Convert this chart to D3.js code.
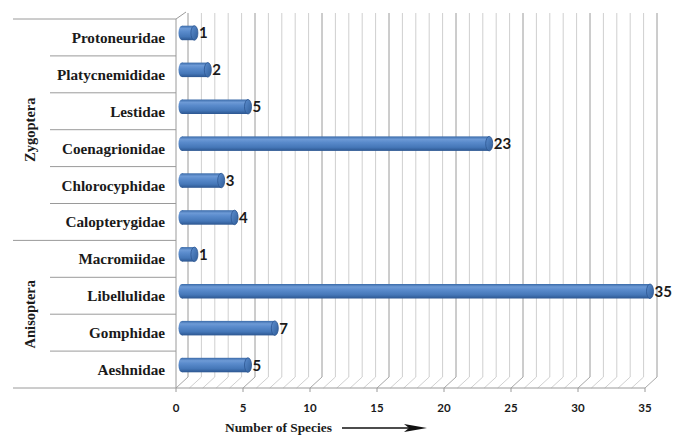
<!DOCTYPE html>
<html><head><meta charset="utf-8">
<script src="https://cdn.jsdelivr.net/npm/d3@7"></script>
<style>body{margin:0;background:#fff}svg{display:block}</style>
</head><body>
<script>
const categories = ["Protoneuridae","Platycnemididae","Lestidae","Coenagrionidae","Chlorocyphidae","Calopterygidae","Macromiidae","Libellulidae","Gomphidae","Aeshnidae"];
const values = [1,2,5,23,3,4,1,35,7,5];
const groupNames = ["Zygoptera","Anisoptera"];
const groupSizes = [6,4];
const tickValues = [0,5,10,15,20,25,30,35];
const axisTitle = "Number of Species";

const W=684,H=435;
const svg=d3.select("body").append("svg").attr("width",W).attr("height",H);
const x=d3.scaleLinear().domain([0,35]).range([176,645]);
const y=d3.scaleBand().domain(categories).range([19,388]);
const DX=12, DY=-11;
const floorY=388, topY=13;

const defs=svg.append("defs");
const g1=defs.append("linearGradient").attr("id","cyl").attr("x1",0).attr("y1",0).attr("x2",0).attr("y2",1);
[[0,"#3a6aa8"],[0.2,"#6d9ad6"],[0.4,"#5a8bcc"],[0.75,"#4577b8"],[1,"#2c5690"]].forEach(s=>g1.append("stop").attr("offset",s[0]).attr("stop-color",s[1]));
const g2=defs.append("linearGradient").attr("id","cap").attr("x1",0).attr("y1",0).attr("x2",1).attr("y2",1);
[[0,"#5d8ecf"],[1,"#2f5d99"]].forEach(s=>g2.append("stop").attr("offset",s[0]).attr("stop-color",s[1]));

const units=d3.range(0,36);
svg.append("g").selectAll("line").data(units).join("line")
  .attr("x1",d=>x(d)+DX).attr("x2",d=>x(d)+DX)
  .attr("y1",topY).attr("y2",floorY+DY)
  .attr("stroke",d=>d%5===0?"#9a9a9a":"#cfcfcf").attr("stroke-width",1);
svg.append("g").selectAll("line").data(units).join("line")
  .attr("x1",d=>x(d)).attr("x2",d=>x(d)+DX)
  .attr("y1",floorY).attr("y2",floorY+DY)
  .attr("stroke",d=>d%5===0?"#a8a8a8":"#d0d0d0").attr("stroke-width",1);
svg.append("line").attr("x1",x(0)).attr("x2",x(35)).attr("y1",floorY).attr("y2",floorY).attr("stroke","#9a9a9a");
svg.append("g").selectAll("line").data(tickValues).join("line")
  .attr("x1",d=>x(d)).attr("x2",d=>x(d)).attr("y1",floorY).attr("y2",floorY+4).attr("stroke","#9a9a9a");
svg.append("line").attr("x1",x(0)).attr("x2",x(0)).attr("y1",19).attr("y2",floorY).attr("stroke","#9a9a9a");
svg.append("line").attr("x1",x(0)).attr("x2",x(0)+DX-2).attr("y1",19).attr("y2",topY-1).attr("stroke","#9a9a9a");

const bounds=d3.range(categories.length+1).map(i=>y.range()[0]+i*y.step());
const groupStarts=[0];groupSizes.reduce((a,s)=>{groupStarts.push(a+s);return a+s;},0);
svg.append("g").selectAll("line").data(bounds).join("line")
  .attr("x1",(d,i)=>groupStarts.includes(i)?13:50).attr("x2",x(0))
  .attr("y1",d=>d).attr("y2",d=>d).attr("stroke","#9a9a9a");

svg.append("g").selectAll("text").data(categories).join("text")
  .attr("x",165).attr("y",d=>y(d)+y.bandwidth()/2+5.5)
  .attr("text-anchor","end").attr("font-family","Liberation Serif").attr("font-weight","bold").attr("font-size",15.2)
  .attr("fill","#1a1a1a").text(d=>d);
groupNames.forEach((n,i)=>{
  const a=bounds[groupStarts[i]], b=bounds[groupStarts[i+1]];
  const cy=(a+b)/2;
  svg.append("text").attr("transform",`translate(35,${cy}) rotate(-90)`)
    .attr("text-anchor","middle").attr("font-family","Liberation Serif").attr("font-weight","bold").attr("font-size",14.5)
    .attr("fill","#1a1a1a").text(n);
});

const bh=14.5, rx=3.5;
const bars=svg.append("g").selectAll("g").data(categories).join("g");
bars.each(function(c,i){
  const gg=d3.select(this);
  const cy=y(c)+y.bandwidth()/2+DY/2+1;
  const x0=x(0)+DX/2, x1=x(values[i])+DX/2-1;
  gg.append("ellipse").attr("cx",x0).attr("cy",cy).attr("rx",rx).attr("ry",bh/2).attr("fill","url(#cyl)");
  gg.append("rect").attr("x",x0).attr("y",cy-bh/2).attr("width",x1-x0).attr("height",bh).attr("fill","url(#cyl)");
  gg.append("ellipse").attr("cx",x1).attr("cy",cy).attr("rx",rx).attr("ry",bh/2).attr("fill","url(#cap)").attr("stroke","#2c5690").attr("stroke-width",0.8);
  gg.append("text").attr("x",x1+rx+1).attr("y",cy+5.5)
    .attr("font-family","Lato").attr("font-weight","bold").attr("font-size",15).attr("fill","#1a1a1a").text(values[i]);
});

svg.append("g").selectAll("text").data(tickValues).join("text")
  .attr("x",d=>x(d)).attr("y",412).attr("text-anchor","middle")
  .attr("font-family","Lato").attr("font-weight","bold").attr("font-size",11.5).attr("fill","#1a1a1a").text(d=>d);

svg.append("text").attr("x",225).attr("y",432).attr("font-family","Liberation Serif").attr("font-weight","bold").attr("font-size",13.4).attr("fill","#1a1a1a").text(axisTitle);
svg.append("line").attr("x1",342).attr("x2",412).attr("y1",428).attr("y2",428).attr("stroke","#111").attr("stroke-width",1.5);
svg.append("path").attr("d","M404,424 L427,428 L404,432 L409,428 Z").attr("fill","#111");
</script>
</body></html>
